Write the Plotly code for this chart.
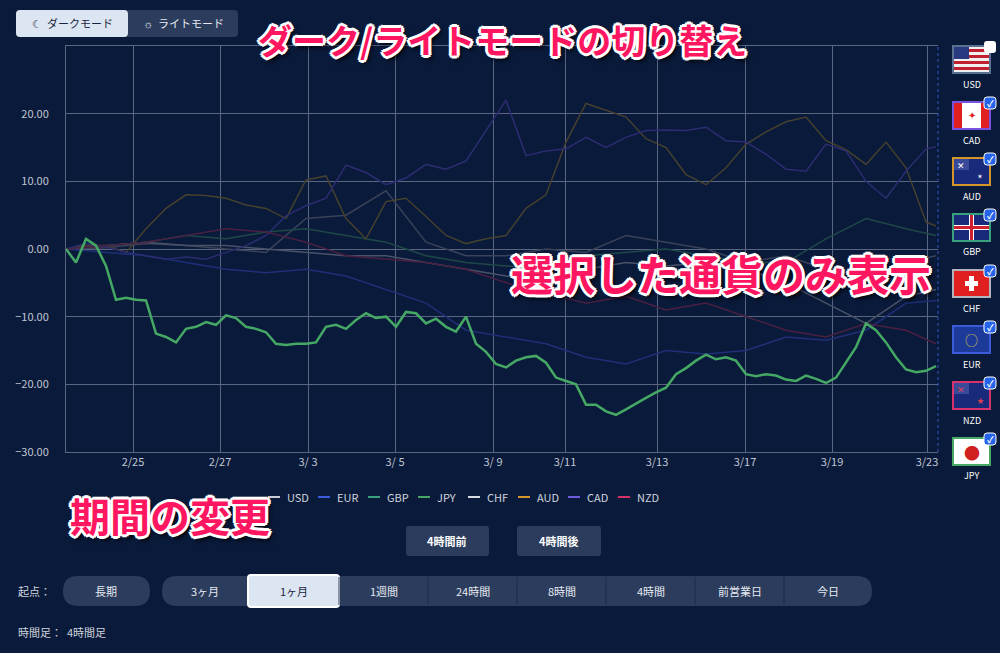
import plotly.graph_objects as go

# x = point index (4h-ish steps), y = % change
jpy = [0.0, -2.0, 1.5, 0.5, -2.5, -7.5, -7.2, -7.5, -7.6, -12.5, -13.0, -13.8, -11.8, -11.5, -10.8,
       -11.2, -9.8, -10.2, -11.5, -11.8, -12.3, -14.0, -14.2, -14.0, -14.0, -13.8, -11.5, -11.2,
       -11.8, -10.5, -9.5, -10.2, -10.0, -11.5, -9.3, -9.5, -11.0, -10.3, -11.5, -12.2, -10.0,
       -14.0, -15.2, -17.0, -17.5, -16.5, -16.0, -15.8, -16.8, -19.0, -19.5, -20.0, -23.0, -23.0,
       -24.0, -24.5, -23.7, -22.8, -22.0, -21.2, -20.5, -18.5, -17.6, -16.5, -15.6, -16.3, -16.0,
       -16.5, -18.5, -18.8, -18.5, -18.7, -19.3, -19.5, -18.7, -19.2, -19.8, -19.0, -16.8, -14.5,
       -11.0, -12.0, -13.8, -16.0, -17.8, -18.2, -18.0, -17.3]
x_jpy = list(range(len(jpy)))

x_fine = list(range(0, 87, 2)) + [87]
cad = [0, 0.8, 0.3, -0.5, -1, -1.5, -1.2, -1.5, -0.5, 0.5, 2, 4.9, 6.4, 7.5, 12.4, 11.3, 9.5, 10.5,
       12.5, 11.8, 13, 17.5, 22, 13.8, 14.5, 14.8, 16.5, 15, 16.5, 17.5, 17.6, 17.5, 18, 16, 15.8,
       14, 11.8, 11.5, 15.5, 14.5, 10, 7.5, 11.5, 14.8, 15.1]
aud = [0, 0.5, 0.5, -0.5, 3, 6, 8, 7.9, 7.5, 6.5, 6, 4.5, 10.2, 10.8, 4.5, 1.5, 7, 7.5, 4.8, 2,
       0.8, 1.5, 2, 6, 8, 15.8, 21.5, 20.5, 19.5, 16.3, 15, 11, 9.5, 12, 15.5, 17.3, 18.8, 19.5,
       16, 14.7, 12.5, 15.8, 12, 4, 3.4]

x_coarse = list(range(0, 85, 4)) + [87]
usd = [0, 0.2, 0.8, 0.5, 0, -0.5, 4.5, 5, 8.6, 1, -1, -1, 0, -0.5, 2, 1, 0, -2, -1, -3, -4, -2, -1]
eur = [0, -0.5, -1, -2, -3, -3.5, -3, -4, -6, -8, -12, -13, -14, -16, -17, -15, -15.5, -15, -13,
       -13.5, -12, -8, -7.6]
gbp = [0, 0.5, 1, 2, 1.5, 2.5, 3, 2, 1, -1, -2, -2.5, -3, -1, -0.5, 0, -1, -2, -2, 1.5, 4.5, 3, 2]
chf = [0, 0.5, 1, 0.5, 0.5, 0, -0.5, -1, -1, -2, -3, -4, -4.5, -3, -2, -2.5, -2, -3, -5, -8, -11,
       -7, -6]
nzd = [0, 0.5, 1, 2, 3, 2.5, 1, -1, -1.5, -2, -3, -5, -6.5, -8, -7, -9, -8, -10, -12, -13, -11,
       -12, -14]

tick_pos = [6.7, 15.4, 24.2, 32.9, 42.7, 49.9, 59.1, 67.9, 76.6, 86.1]
tick_txt = ['2/25', '2/27', '3/ 3', '3/ 5', '3/ 9', '3/11', '3/13', '3/17', '3/19', '3/23']

names = ['USD', 'EUR', 'GBP', 'JPY', 'CHF', 'AUD', 'CAD', 'NZD']
colors = ['#c8ccd6', '#3b5bdb', '#3aa17e', '#45a864', '#d8dce4', '#d4952a', '#6f5ce0', '#d6336c']
series = {'USD': (x_coarse, usd), 'EUR': (x_coarse, eur), 'GBP': (x_coarse, gbp),
          'JPY': (x_jpy, jpy), 'CHF': (x_coarse, chf), 'AUD': (x_fine, aud),
          'CAD': (x_fine, cad), 'NZD': (x_coarse, nzd)}
dim_colors = {'USD': '#3a4258', 'EUR': '#1f2f78', 'GBP': '#1e4848', 'CHF': '#4a5268',
              'AUD': '#46402e', 'CAD': '#2c2c72', 'NZD': '#4a2042'}

BG = '#0a1a3a'
BTN = '#2c3c5c'
L, R, T, B = 66, 938, 46, 452
FONT = 'Noto Sans CJK JP'


def px(x):
    return (x - L) / (R - L)


def py(y):
    return (B - y) / (B - T)


def rrect(x0, y0, x1, y1, r):
    pts = [('M', x0 + r, y0), ('L', x1 - r, y0), ('Q', x1, y0, x1, y0 + r), ('L', x1, y1 - r),
           ('Q', x1, y1, x1 - r, y1), ('L', x0 + r, y1), ('Q', x0, y1, x0, y1 - r),
           ('L', x0, y0 + r), ('Q', x0, y0, x0 + r, y0)]
    s = ''
    for p in pts:
        c = p[0]
        coords = p[1:]
        s += c + ' ' + ' '.join(f'{px(coords[i]):.5f},{py(coords[i + 1]):.5f}'
                                for i in range(0, len(coords), 2)) + ' '
    return s + 'Z'


fig = go.Figure()
for n in names:
    xs, ys = series[n]
    if n == 'JPY':
        continue
    fig.add_trace(go.Scatter(x=xs, y=ys, mode='lines', name=n, showlegend=False,
                             line=dict(color=dim_colors[n], width=1.5)))
fig.add_trace(go.Scatter(x=x_jpy, y=jpy, mode='lines', name='JPY', showlegend=False,
                         line=dict(color='#45a864', width=2.5)))

shapes = []
ann = []


def text(x, y, t, size=11, color='#e6eaf2', bold=False, anchor='center', shadow=None):
    f = dict(family=FONT, size=size, color=color, weight='bold' if bold else 'normal')
    if shadow:
        f['shadow'] = shadow
    ann.append(dict(x=px(x), y=py(y), xref='paper', yref='paper', text=t, showarrow=False,
                    xanchor=anchor, yanchor='middle', font=f))


def rect(x0, y0, x1, y1, fill, line=None, lw=1, r=0):
    if r:
        shapes.append(dict(type='path', path=rrect(x0, y0, x1, y1, r), xref='paper', yref='paper',
                           fillcolor=fill, line=dict(color=line or fill, width=lw if line else 0)))
    else:
        shapes.append(dict(type='rect', x0=px(x0), x1=px(x1), y0=py(y0), y1=py(y1),
                           xref='paper', yref='paper', fillcolor=fill,
                           line=dict(color=line or fill, width=lw if line else 0)))


# right dotted border
shapes.append(dict(type='line', x0=1, x1=1, y0=0, y1=1, xref='paper', yref='paper',
                   line=dict(color='#3355cc', width=1, dash='dot')))

# dark/light toggle
rect(16, 10, 238, 37, BTN, r=4)
rect(16, 10, 128, 37, '#dce6f2', r=4)
text(72, 23, '☾  ダークモード', 11, '#1a2440')
text(183, 23, '☼  ライトモード', 11, '#e6eaf2')

# legend (manual)
lx = 268
for n, c in zip(names, colors):
    shapes.append(dict(type='line', x0=px(lx), x1=px(lx + 12), y0=py(497), y1=py(497),
                       xref='paper', yref='paper', line=dict(color=c, width=2)))
    text(lx + 17, 497, n, 11, '#d0d4de', anchor='left')
    lx += 17 + 7 * len(n) + 12

# shift buttons
rect(406, 526, 489, 556, BTN, r=3)
rect(517, 526, 601, 556, BTN, r=3)
text(447, 541, '4時間前', 11, '#ffffff', True)
text(559, 541, '4時間後', 11, '#ffffff', True)

# period buttons
text(16, 591, '起点：', 11, '#d0d4de', anchor='left')
rect(63, 576, 150, 606, BTN, r=15)
text(106, 591, '長期', 11)
periods = ['3ヶ月', '1ヶ月', '1週間', '24時間', '8時間', '4時間', '前営業日', '今日']
edges = [162, 248, 339, 428, 517, 606, 695, 784, 872]
rect(162, 576, 872, 606, BTN, r=15)
for i, p in enumerate(periods):
    if i > 0:
        shapes.append(dict(type='line', x0=px(edges[i]), x1=px(edges[i]), y0=py(577), y1=py(605),
                           xref='paper', yref='paper', line=dict(color='#1c2a48', width=1)))
    sel = p == '1ヶ月'
    if sel:
        rect(edges[i], 575, edges[i + 1], 607, '#dce6f2', line='#ffffff', lw=2, r=3)
    text((edges[i] + edges[i + 1]) / 2, 591, p, 11, '#1a2440' if sel else '#e6eaf2')
text(16, 632, '時間足：  4時間足', 11, '#d0d4de', anchor='left')

# flags
flag_names = ['USD', 'CAD', 'AUD', 'GBP', 'CHF', 'EUR', 'NZD', 'JPY']
flag_border = ['#5a7090', '#7a52e0', '#d4952a', '#3aa17e', '#b0b4bc', '#3b5bdb', '#d6336c', '#45a864']
for i, (n, bc) in enumerate(zip(flag_names, flag_border)):
    y0 = 46 + 56 * i
    x0, x1, y1 = 953, 990, y0 + 27
    base = {'USD': '#f0f0f0', 'CAD': '#ffffff', 'AUD': '#1a2a7a', 'GBP': '#1a2a7a',
            'CHF': '#e02020', 'EUR': '#1d3a9a', 'NZD': '#1a2a7a', 'JPY': '#ffffff'}[n]
    rect(x0, y0, x1, y1, base, line=bc, lw=2)
    if n == 'USD':
        for k in range(4):
            rect(x0 + 1, y0 + 3 + k * 6, x1 - 1, y0 + 6 + k * 6, '#c02030')
        rect(x0 + 1, y0 + 1, x0 + 16, y0 + 13, '#2a3a80')
    elif n == 'CAD':
        rect(x0 + 1, y0 + 1, x0 + 9, y1 - 1, '#e02020')
        rect(x1 - 9, y0 + 1, x1 - 1, y1 - 1, '#e02020')
        text((x0 + x1) / 2, y0 + 13, '✦', 10, '#e02020')
    elif n == 'GBP':
        rect(x0 + 1, y0 + 11, x1 - 1, y0 + 16, '#ffffff')
        rect(x0 + 16, y0 + 1, x0 + 21, y1 - 1, '#ffffff')
        rect(x0 + 1, y0 + 12, x1 - 1, y0 + 15, '#d02030')
        rect(x0 + 17, y0 + 1, x0 + 20, y1 - 1, '#d02030')
    elif n == 'CHF':
        rect(x0 + 16, y0 + 6, x0 + 21, y1 - 6, '#ffffff')
        rect(x0 + 12, y0 + 11, x0 + 25, y0 + 16, '#ffffff')
    elif n == 'EUR':
        text((x0 + x1) / 2, y0 + 13, '○', 13, '#d8c040')
    elif n in ('AUD', 'NZD'):
        rect(x0 + 1, y0 + 1, x0 + 16, y0 + 12, '#3a4a9a')
        text(x0 + 8, y0 + 7, '✕', 9, '#e04050' if n == 'NZD' else '#ffffff')
        text(x0 + 27, y0 + 18, '✶' if n == 'AUD' else '★', 7, '#ffffff' if n == 'AUD' else '#e04050')
    elif n == 'JPY':
        text((x0 + x1) / 2, y0 + 14, '●', 16, '#d02020')
    if n != 'USD':
        rect(x1 - 6, y0 - 5, x1 + 6, y0 + 7, '#2563eb', line='#ffffff', lw=1, r=3)
        text(x1, y0 + 1, '✓', 9, '#ffffff', True)
    else:
        rect(x1 - 6, y0 - 5, x1 + 6, y0 + 7, '#ffffff', r=3)
    text((x0 + x1) / 2, y1 + 11, n, 9, '#ffffff')

# callouts
outline = ('-2px -2px 0 #fff, 2px -2px 0 #fff, -2px 2px 0 #fff, 2px 2px 0 #fff, '
           '0 3px 0 #fff, 0 -3px 0 #fff, 3px 0 0 #fff, -3px 0 0 #fff, 3px 4px 5px #000')
text(502, 40, 'ダーク/ライトモードの切り替え', 34, '#ff1660', True, shadow=outline)
text(721, 272, '選択した通貨のみ表示', 42, '#ff1660', True, shadow=outline)
text(170, 515, '期間の変更', 40, '#ff1660', True, shadow=outline)

fig.update_layout(
    width=1000, height=653, margin=dict(l=L, r=1000 - R, t=T, b=653 - B),
    paper_bgcolor=BG, plot_bgcolor=BG, shapes=shapes, annotations=ann,
    font=dict(family=FONT, color='#c0c6d4', size=11),
    xaxis=dict(range=[0, 87.2], tickvals=tick_pos, ticktext=tick_txt, showgrid=True,
               gridcolor='#5a6580', gridwidth=1, showline=True, linecolor='#5a6580', mirror=True,
               zeroline=False, ticklen=0, tickfont=dict(size=11, color='#c0c6d4')),
    yaxis=dict(range=[-30, 30], tickvals=[-30, -20, -10, 0, 10, 20], tickformat='.2f',
               showgrid=True, gridcolor='#5a6580', showline=True, linecolor='#5a6580',
               zeroline=False, ticks='outside', ticklen=14, tickcolor=BG,
               tickfont=dict(size=11, color='#c0c6d4')),
)
fig.write_html('out.html', config={'displayModeBar': False},
               post_script="document.body.style.margin='0';"
               "document.body.style.background='" + BG + "';")
